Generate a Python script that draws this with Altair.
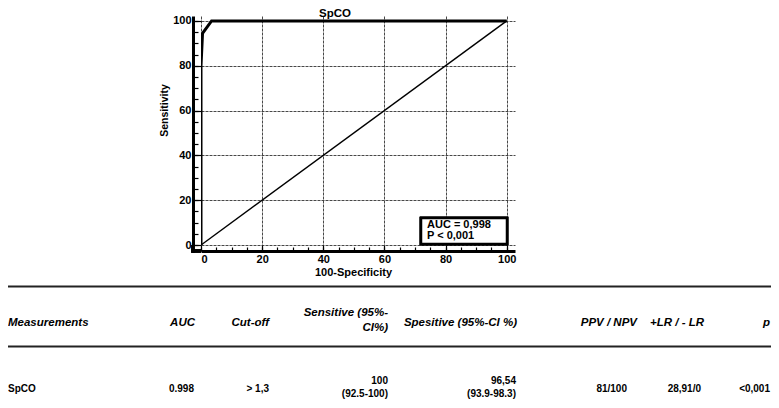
import altair as alt
import pandas as pd

# ---- ROC data ----
roc_x = [0, 0, 0.5, 3.46, 100]
roc_y = [0, 80, 94.5, 100, 100]
diag_x = [0, 100]
diag_y = [0, 100]

major_ticks = [0, 20, 40, 60, 80, 100]
minor_ticks = [0, 5, 10, 15, 20, 25, 30, 35, 40, 45, 50, 55, 60, 65, 70, 75, 80, 85, 90, 95, 100]

chart_title = "SpCO"
x_title = "100-Specificity"
y_title = "Sensitivity"
box_lines = ["AUC = 0,998", "P < 0,001"]

# ---- table content ----
header_cells = ["Measurements", "AUC", "Cut-off", "Sensitive (95%-", "CI%)",
                "Spesitive (95%-CI %)", "PPV / NPV", "+LR / - LR", "p"]
body_cells = ["SpCO", "0.998", "> 1,3", "100", "(92.5-100)",
              "96,54", "(93.9-98.3)", "81/100", "28,91/0", "<0,001"]

# layout (pixel positions relative to the plot origin)
OX, OY = 201, 16
header_pos_img = [(8, 323), (195, 323), (269, 323), (388, 313), (388, 328),
                  (517, 323), (637, 323), (704, 323), (770, 323)]
body_pos_img = [(8, 389), (194, 389), (269, 389), (388, 381), (388, 394),
                (516, 381), (516, 394), (627, 389), (701, 389), (770, 389)]

W, H = 314, 229
xdom = [0, 102.7]
ydom = [0, 102.2]
FONT = "Liberation Sans"

roc = pd.DataFrame({"x": roc_x, "y": roc_y})
diag = pd.DataFrame({"x": diag_x, "y": diag_y})

xs = alt.Scale(domain=xdom, nice=False, zero=False)
ys = alt.Scale(domain=ydom, nice=False, zero=False)

lab = dict(labelFont=FONT, labelFontSize=11, labelFontWeight="bold", labelColor="black")

# Layer A: diagonal + label axes (offset lines)
layer_a = alt.Chart(diag).mark_line(color="black", strokeWidth=1.4, clip=True).encode(
    x=alt.X("x:Q", scale=xs, axis=alt.Axis(
        orient="bottom", offset=6, values=major_ticks, ticks=False, grid=False,
        domain=True, domainColor="black", domainWidth=3, labelPadding=2,
        title=x_title, titleFont=FONT, titleFontSize=11, titleFontWeight="bold",
        titleColor="black", titlePadding=2, titleX=152, **lab)),
    y=alt.Y("y:Q", scale=ys, axis=alt.Axis(
        orient="left", offset=8, values=major_ticks, ticks=False, grid=False,
        domain=True, domainColor="black", domainWidth=3, labelPadding=2,
        title=y_title, titleFont=FONT, titleFontSize=10.5, titleFontWeight="bold",
        titleColor="black", titlePadding=3, titleY=94, **lab)),
)

# Layer B: ROC curve + grid + major ticks
layer_b = alt.Chart(roc).mark_line(color="black", strokeWidth=3, clip=True).encode(
    x=alt.X("x:Q", scale=xs, axis=alt.Axis(
        orient="bottom", offset=0, values=major_ticks, labels=False, domain=False,
        ticks=True, tickSize=6, tickColor="black", tickWidth=1.2, grid=True,
        gridColor="#333", gridWidth=0.9, gridDash=[3, 1], title=None)),
    y=alt.Y("y:Q", scale=ys, axis=alt.Axis(
        orient="left", offset=0, values=major_ticks, labels=False, domain=False,
        ticks=True, tickSize=8, tickColor="black", tickWidth=1.2, grid=True,
        gridColor="#333", gridWidth=0.9, gridDash=[3, 1], title=None)),
)

# Layer C: minor ticks (invisible carrier mark)
layer_c = alt.Chart(roc).mark_point(opacity=0).encode(
    x=alt.X("x:Q", scale=xs, axis=alt.Axis(
        orient="bottom", offset=2, values=minor_ticks, labels=False, domain=False,
        ticks=True, tickSize=4, tickColor="black", tickWidth=1.2, grid=False, title=None)),
    y=alt.Y("y:Q", scale=ys, axis=alt.Axis(
        orient="left", offset=3, values=minor_ticks, labels=False, domain=False,
        ticks=True, tickSize=5, tickColor="black", tickWidth=1.2, grid=False, title=None)),
)

# corner pieces to join the offset axis lines
corner_v = alt.Chart(roc).mark_rule(color="black", strokeWidth=3).encode(
    x=alt.value(-8), y=alt.value(H), y2=alt.value(H + 7.5))
corner_h = alt.Chart(roc).mark_rule(color="black", strokeWidth=3).encode(
    x=alt.value(-9.5), x2=alt.value(0), y=alt.value(H + 6))

# AUC box
box = alt.Chart(roc).mark_rect(fill="white", stroke="black", strokeWidth=2.5).encode(
    x=alt.value(220), x2=alt.value(306), y=alt.value(202), y2=alt.value(228))
box_df = pd.DataFrame({"t": box_lines, "px": [226, 226], "py": [208.5, 220]})
box_text = alt.Chart(box_df).mark_text(
    align="left", baseline="middle", font=FONT, fontSize=11, fontWeight="bold", color="black"
).encode(x=alt.X("px:Q", scale=None, axis=None), y=alt.Y("py:Q", scale=None, axis=None), text="t:N")

# title (kept inside the drawing area)
title_df = pd.DataFrame({"t": [chart_title], "px": [335 - OX], "py": [16.5 - OY]})
title_text = alt.Chart(title_df).mark_text(
    align="center", baseline="alphabetic", font=FONT, fontSize=11.5, fontWeight="bold", color="black"
).encode(x=alt.X("px:Q", scale=None, axis=None), y=alt.Y("py:Q", scale=None, axis=None), text="t:N")

# table
hdr = pd.DataFrame({"t": header_cells,
                    "px": [p[0] - OX for p in header_pos_img],
                    "py": [p[1] - OY for p in header_pos_img],
                    "left": [i == 0 for i in range(len(header_cells))]})
bdy = pd.DataFrame({"t": body_cells,
                    "px": [p[0] - OX for p in body_pos_img],
                    "py": [p[1] - OY for p in body_pos_img],
                    "left": [i == 0 for i in range(len(body_cells))]})


def table_layer(df, align, italic, size):
    base = alt.Chart(df).transform_filter(
        alt.datum.left if align == "left" else ~alt.datum.left)
    kw = dict(align=align, baseline="middle", font=FONT, fontSize=size,
              fontWeight="bold", color="black")
    if italic:
        kw["fontStyle"] = "italic"
    return base.mark_text(**kw).encode(
        x=alt.X("px:Q", scale=None, axis=None),
        y=alt.Y("py:Q", scale=None, axis=None),
        text="t:N")


rules_df = pd.DataFrame({"py": [286.5 - OY, 346.5 - OY]})
table_rules = alt.Chart(rules_df).mark_rule(color="#222", strokeWidth=2).encode(
    x=alt.value(-OX), x2=alt.value(779 - OX),
    y=alt.Y("py:Q", scale=None, axis=None))

chart = alt.layer(
    layer_b, layer_c, layer_a, corner_v, corner_h, box, box_text, title_text,
    table_rules,
    table_layer(hdr, "left", True, 11.5), table_layer(hdr, "right", True, 11.5),
    table_layer(bdy, "left", False, 10), table_layer(bdy, "right", False, 10),
).resolve_axis(x="independent", y="independent").properties(
    width=W, height=H,
    autosize=alt.AutoSizeParams(type="none"),
    padding={"left": OX - 8, "top": OY - 8, "right": 763 - (OX - 8) - W, "bottom": 392 - (OY - 8) - H},
    background="white",
).configure_view(stroke=None)

chart.save("out.html", embed_options={"renderer": "svg", "actions": False})
